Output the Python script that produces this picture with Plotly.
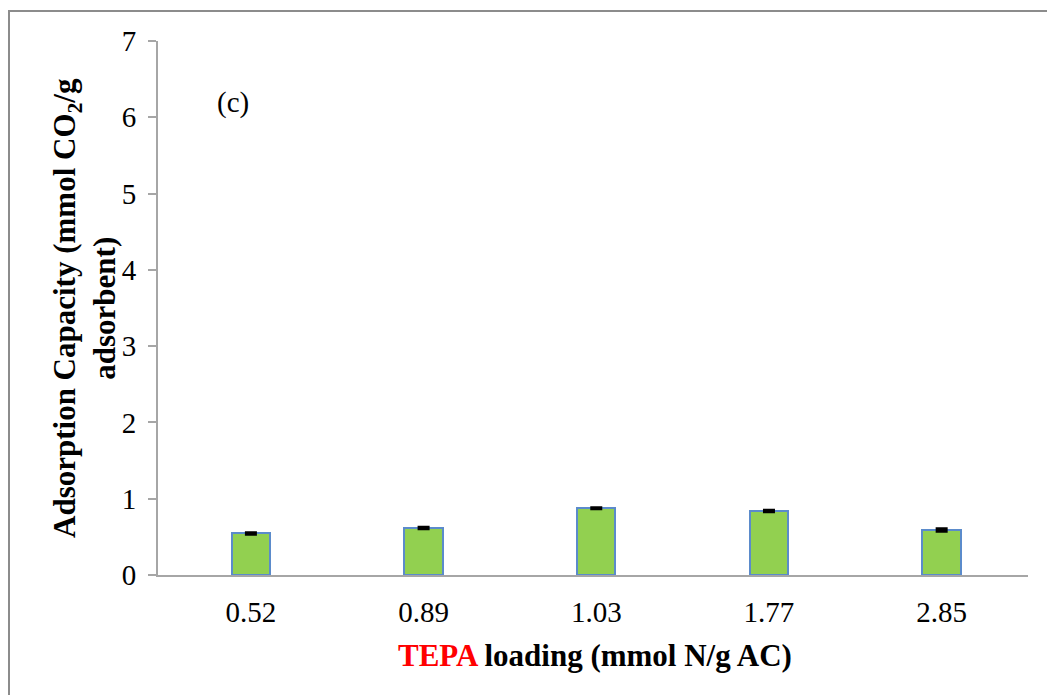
import plotly.graph_objects as go

categories = ["0.52", "0.89", "1.03", "1.77", "2.85"]
capacity = [0.545, 0.615, 0.875, 0.840, 0.590]
errors = [0.010, 0.010, 0.008, 0.010, 0.015]
y_ticks = [0, 1, 2, 3, 4, 5, 6, 7]

W, H = 1047, 695
L, R, T, B = 158, 19, 41, 120
pw, ph = W - L - R, H - T - B

def px2x(px):
    return (px - L) / pw

def py2y(py):
    return (H - B - py) / ph

FONT = "Liberation Serif, Times New Roman, serif"

fig = go.Figure()
fig.add_trace(go.Bar(
    x=categories, y=capacity, width=0.222,
    marker=dict(color="#92D050", line=dict(color="#5B8BCB", width=2)),
    error_y=dict(type="data", array=errors, visible=True,
                 color="black", thickness=3, width=6),
    showlegend=False,
))

fig.update_layout(
    width=W, height=H,
    margin=dict(l=L, r=R, t=T, b=B),
    paper_bgcolor="white", plot_bgcolor="white",
    font=dict(family=FONT, size=29, color="black"),
    bargap=0,
    xaxis=dict(
        type="category", range=[-0.538, 4.5],
        showline=True, linecolor="#A6A6A6", linewidth=2,
        ticks="", showgrid=False, zeroline=False,
        tickfont=dict(family=FONT, size=29, color="black"),
        ticklabelstandoff=10,
    ),
    yaxis=dict(
        range=[0, 7], tickvals=y_ticks,
        showline=True, linecolor="#A6A6A6", linewidth=2,
        ticks="outside", ticklen=8, tickwidth=2, tickcolor="#A6A6A6",
        showgrid=False, zeroline=False,
        tickfont=dict(family=FONT, size=29, color="black"),
        ticklabelstandoff=6,
    ),
    annotations=[
        dict(text="(c)", xref="paper", yref="paper",
             x=px2x(233), y=py2y(103), xanchor="center", yanchor="middle",
             showarrow=False,
             font=dict(family=FONT, size=29, color="black")),
        dict(text="<b><span style='color:#FF0000'>TEPA</span> loading (mmol N/g AC)</b>",
             xref="paper", yref="paper", x=px2x(595), y=py2y(655),
             xanchor="center", yanchor="middle",
             showarrow=False, font=dict(family=FONT, size=31, color="black")),
        dict(text="<b>Adsorption Capacity (mmol CO<sub>2</sub>/g<br>adsorbent)</b>",
             xref="paper", yref="paper", x=px2x(84), y=py2y(308),
             xanchor="center", yanchor="middle",
             textangle=-90, showarrow=False,
             font=dict(family=FONT, size=31, color="black")),
    ],
    shapes=[
        dict(type="rect", xref="paper", yref="paper",
             x0=px2x(9), x1=px2x(1060), y0=py2y(710), y1=py2y(11),
             line=dict(color="#8C8C8C", width=2), fillcolor="rgba(0,0,0,0)",
             layer="below"),
    ],
)

fig.write_html("out.html")
